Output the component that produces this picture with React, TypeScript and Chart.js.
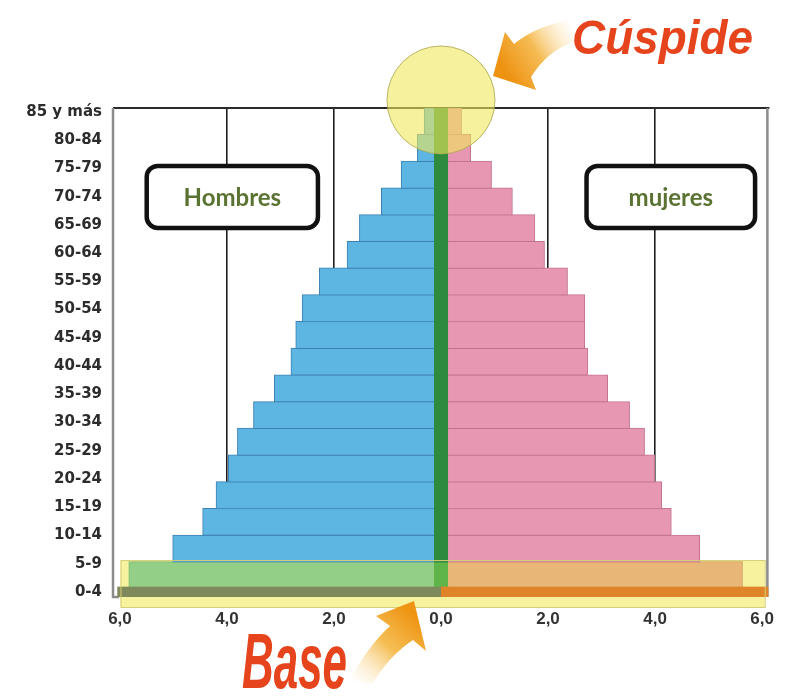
import React, { useEffect, useRef } from 'react';
import { Chart, registerables } from 'chart.js';

Chart.register(...registerables);

// ---- data (youngest first) ----
const ageGroups = ['0-4', '5-9', '10-14', '15-19', '20-24', '25-29', '30-34', '35-39', '40-44', '45-49', '50-54', '55-59', '60-64', '65-69', '70-74', '75-79', '80-84', '85 y más'];
const hombres = [5.83, 5.01, 4.45, 4.2, 3.97, 3.8, 3.5, 3.11, 2.8, 2.71, 2.59, 2.27, 1.75, 1.52, 1.11, 0.74, 0.44, 0.31];
const mujeres = [5.63, 4.83, 4.3, 4.12, 3.99, 3.8, 3.52, 3.11, 2.74, 2.68, 2.68, 2.36, 1.93, 1.75, 1.33, 0.94, 0.55, 0.38];
const xTickValues = [-6, -4, -2, 0, 2, 4, 6];
const gridValues = [-4, -2, 2, 4];
const centerHalfWidth = 0.12;
const seriesLabels = ['Hombres', 'mujeres'];
const annotationTexts = ['Cúspide', 'Base'];

function rr(ctx: CanvasRenderingContext2D, x: number, y: number, w: number, h: number, r: number) {
  ctx.beginPath();
  ctx.moveTo(x + r, y);
  ctx.lineTo(x + w - r, y);
  ctx.arcTo(x + w, y, x + w, y + r, r);
  ctx.lineTo(x + w, y + h - r);
  ctx.arcTo(x + w, y + h, x + w - r, y + h, r);
  ctx.lineTo(x + r, y + h);
  ctx.arcTo(x, y + h, x, y + h - r, r);
  ctx.lineTo(x, y + r);
  ctx.arcTo(x, y, x + r, y, r);
  ctx.closePath();
}

function drawStretched(ctx: CanvasRenderingContext2D, text: string, left: number, baseline: number, fontPx: number, targetW: number, color: string) {
  ctx.save();
  ctx.font = `italic bold ${fontPx}px "Liberation Sans", Arial, sans-serif`;
  const w = ctx.measureText(text).width;
  ctx.translate(left, baseline);
  ctx.scale(targetW / w, 1);
  ctx.fillStyle = color;
  ctx.textAlign = 'left';
  ctx.textBaseline = 'alphabetic';
  ctx.fillText(text, 0, 0);
  ctx.restore();
}

const decorPlugin = {
  id: 'decor',
  beforeDatasetsDraw(chart: any) {
    const { ctx, chartArea: ca, scales } = chart;
    const x = scales.x;
    const y = scales.y;
    ctx.save();
    // yellow highlight rectangle (base)
    const rx0 = x.getPixelForValue(-5.99);
    const rx1 = x.getPixelForValue(6.05);
    const ry0 = y.getPixelForValue(0.57);
    const ry1 = ca.bottom + 10;
    ctx.fillStyle = '#F6F29E';
    ctx.fillRect(rx0, ry0, rx1 - rx0, ry1 - ry0);
    // frame
    ctx.strokeStyle = '#2a2a2a';
    ctx.lineWidth = 2;
    ctx.beginPath();
    ctx.moveTo(ca.left, ca.top);
    ctx.lineTo(ca.right + 2, ca.top);
    ctx.stroke();
    ctx.strokeStyle = '#8c8c8c';
    ctx.lineWidth = 2.5;
    ctx.beginPath();
    ctx.moveTo(ca.left, ca.top);
    ctx.lineTo(ca.left, ca.bottom);
    ctx.lineTo(ca.left + 6, ca.bottom);
    ctx.moveTo(ca.right, ca.top);
    ctx.lineTo(ca.right, ca.bottom);
    ctx.stroke();
    ctx.restore();
  },
  afterDatasetsDraw(chart: any) {
    const { ctx, chartArea: ca, scales } = chart;
    const x = scales.x;
    const y = scales.y;
    ctx.save();
    // base strip
    const sTop = y.getPixelForValue(-0.5) - 2;
    const x0 = x.getPixelForValue(0);
    const xl = x.getPixelForValue(-6.05);
    ctx.fillStyle = '#7E8A5C';
    ctx.fillRect(xl, sTop, x0 - xl, ca.bottom - sTop);
    ctx.fillStyle = '#E0842A';
    ctx.fillRect(x0, sTop, ca.right + 1 - x0, ca.bottom - sTop);
    // rect border
    const rx0 = x.getPixelForValue(-5.99);
    const rx1 = x.getPixelForValue(6.05);
    const ry0 = y.getPixelForValue(0.57);
    const ry1 = ca.bottom + 10;
    ctx.strokeStyle = '#D6CF78';
    ctx.lineWidth = 1;
    ctx.strokeRect(rx0 + 0.5, ry0 + 0.5, rx1 - rx0, ry1 - ry0);

    // cuspide circle
    const cx = x.getPixelForValue(0);
    const cy = y.getPixelForValue(17.8);
    ctx.beginPath();
    ctx.arc(cx, cy, 54, 0, Math.PI * 2);
    ctx.fillStyle = 'rgba(238,232,90,0.6)';
    ctx.fill();
    ctx.strokeStyle = 'rgba(170,165,80,0.8)';
    ctx.lineWidth = 1;
    ctx.stroke();

    // arrow to cuspide
    ctx.beginPath();
    ctx.moveTo(493, 76);
    ctx.lineTo(505, 32);
    ctx.lineTo(514, 44);
    ctx.quadraticCurveTo(536, 26, 570, 20);
    ctx.lineTo(574, 42);
    ctx.quadraticCurveTo(548, 50, 531, 77);
    ctx.lineTo(536, 90);
    ctx.closePath();
    let g = ctx.createLinearGradient(505, 70, 574, 28);
    g.addColorStop(0, 'rgba(238,146,18,1)');
    g.addColorStop(0.45, 'rgba(244,180,64,0.9)');
    g.addColorStop(1, 'rgba(252,232,186,0.05)');
    ctx.fillStyle = g;
    ctx.fill();

    // arrow to base
    ctx.beginPath();
    ctx.moveTo(414, 601);
    ctx.lineTo(376, 616);
    ctx.lineTo(390, 626);
    ctx.quadraticCurveTo(368, 646, 350, 680);
    ctx.lineTo(372, 684);
    ctx.quadraticCurveTo(390, 655, 413, 640);
    ctx.lineTo(426, 651);
    ctx.closePath();
    g = ctx.createLinearGradient(414, 615, 355, 682);
    g.addColorStop(0, 'rgba(238,148,18,1)');
    g.addColorStop(0.45, 'rgba(244,182,64,0.9)');
    g.addColorStop(1, 'rgba(252,232,186,0.05)');
    ctx.fillStyle = g;
    ctx.fill();

    // annotation texts
    drawStretched(ctx, annotationTexts[0], 572, 54, 49, 181, '#E6441C');
    drawStretched(ctx, annotationTexts[1], 242, 688, 78, 105, '#E6441C');

    // series label boxes
    const boxes = [
      { l: -5.5, r: -2.3, label: seriesLabels[0] },
      { l: 2.72, r: 5.87, label: seriesLabels[1] },
    ];
    const bTop = y.getPixelForValue(15.33);
    const bBot = y.getPixelForValue(13.01);
    boxes.forEach((b) => {
      const bl = x.getPixelForValue(b.l);
      const br = x.getPixelForValue(b.r);
      rr(ctx, bl, bTop, br - bl, bBot - bTop, 11);
      ctx.fillStyle = '#ffffff';
      ctx.fill();
      ctx.lineWidth = 4.5;
      ctx.strokeStyle = '#111111';
      ctx.stroke();
      ctx.fillStyle = '#5A7232';
      ctx.font = 'bold 24px Lato, "Open Sans", sans-serif';
      ctx.textAlign = 'center';
      ctx.textBaseline = 'alphabetic';
      ctx.fillText(b.label, (bl + br) / 2, bBot - 22);
    });
    ctx.restore();
  },
};

export default function App() {
  const ref = useRef<HTMLCanvasElement | null>(null);
  useEffect(() => {
    if (!ref.current) return;
    const rows = ageGroups.map((_, i) => i);
    const chart = new Chart(ref.current, {
      type: 'bar',
      data: {
        datasets: [
          {
            label: seriesLabels[0],
            data: hombres.map((v, i) => ({ x: -v, y: rows[i] })) as any,
            backgroundColor: ageGroups.map((_, i) => (i === 0 ? '#93CF86' : '#5DB6E2')),
            borderColor: ageGroups.map((_, i) => (i === 0 ? '#7DB874' : '#3E80B2')),
            borderWidth: 1,
            inflateAmount: 0.6,
            barPercentage: 1,
            categoryPercentage: 1,
            grouped: false,
            order: 1,
            xAxisID: 'x',
            yAxisID: 'y',
          },
          {
            label: seriesLabels[1],
            data: mujeres.map((v, i) => ({ x: v, y: rows[i] })) as any,
            backgroundColor: ageGroups.map((_, i) => (i === 0 ? '#E8B677' : '#E897B2')),
            borderColor: ageGroups.map((_, i) => (i === 0 ? '#D29E62' : '#C27391')),
            borderWidth: 1,
            inflateAmount: 0.6,
            barPercentage: 1,
            categoryPercentage: 1,
            grouped: false,
            order: 1,
            xAxisID: 'x',
            yAxisID: 'y',
          },
          {
            label: 'eje',
            data: rows.map((i) => ({ x: [-centerHalfWidth, centerHalfWidth], y: i })) as any,
            backgroundColor: ageGroups.map((_, i) => (i === 0 ? '#5FB44A' : '#2E8A3C')),
            borderWidth: 0,
            inflateAmount: 0.6,
            barPercentage: 1,
            categoryPercentage: 1,
            grouped: false,
            order: -1,
            xAxisID: 'x',
            yAxisID: 'y',
          },
        ],
      },
      options: {
        indexAxis: 'y',
        responsive: false,
        animation: false,
        devicePixelRatio: 1,
        layout: { padding: { left: 0, top: 108, right: 18, bottom: 63 } },
        plugins: { legend: { display: false }, tooltip: { enabled: false } },
        scales: {
          x: {
            type: 'linear',
            min: -6.13,
            max: 6.1,
            offset: false,
            afterBuildTicks: (s: any) => {
              s.ticks = xTickValues.map((v) => ({ value: v }));
            },
            afterFit: (s: any) => {
              s.height = 40;
            },
            grid: {
              color: (c: any) => (c.tick && gridValues.includes(c.tick.value) ? '#1e1e1e' : 'rgba(0,0,0,0)'),
              lineWidth: 1.6,
              drawTicks: false,
              offset: false,
            },
            border: { display: false },
            ticks: {
              autoSkip: false,
              maxRotation: 0,
              padding: 12,
              color: '#333333',
              font: { family: '"Liberation Sans", Arial, sans-serif', size: 17, weight: 'bold' },
              callback: (v: any) => Math.abs(Number(v)).toFixed(1).replace('.', ','),
            },
          },
          yl: {
            type: 'linear',
            position: 'left',
            min: -0.177,
            max: 17.139,
            offset: false,
            afterBuildTicks: (s: any) => {
              s.ticks = ageGroups.map((_, i) => ({ value: i }));
            },
            afterFit: (s: any) => {
              s.width = 113;
            },
            grid: { display: false, drawTicks: false, offset: false },
            border: { display: false },
            ticks: {
              autoSkip: false,
              padding: 11,
              color: '#2c2c2c',
              font: { family: '"DejaVu Sans", sans-serif', size: 15, weight: 'bold' },
              callback: (v: any) => ageGroups[Math.round(Number(v))] ?? '',
            },
          },
          y: {
            type: 'linear',
            display: false,
            min: -0.813,
            max: 17.5,
            offset: false,
            grid: { offset: false },
            afterBuildTicks: (s: any) => {
              s.ticks = ageGroups.map((_, i) => ({ value: i }));
            },
          },
        },
      } as any,
      plugins: [decorPlugin],
    });
    return () => chart.destroy();
  }, []);
  return (
    <div style={{ position: 'absolute', left: 0, top: 0, width: 786, height: 700 }}>
      <canvas ref={ref} width={786} height={700} />
    </div>
  );
}
